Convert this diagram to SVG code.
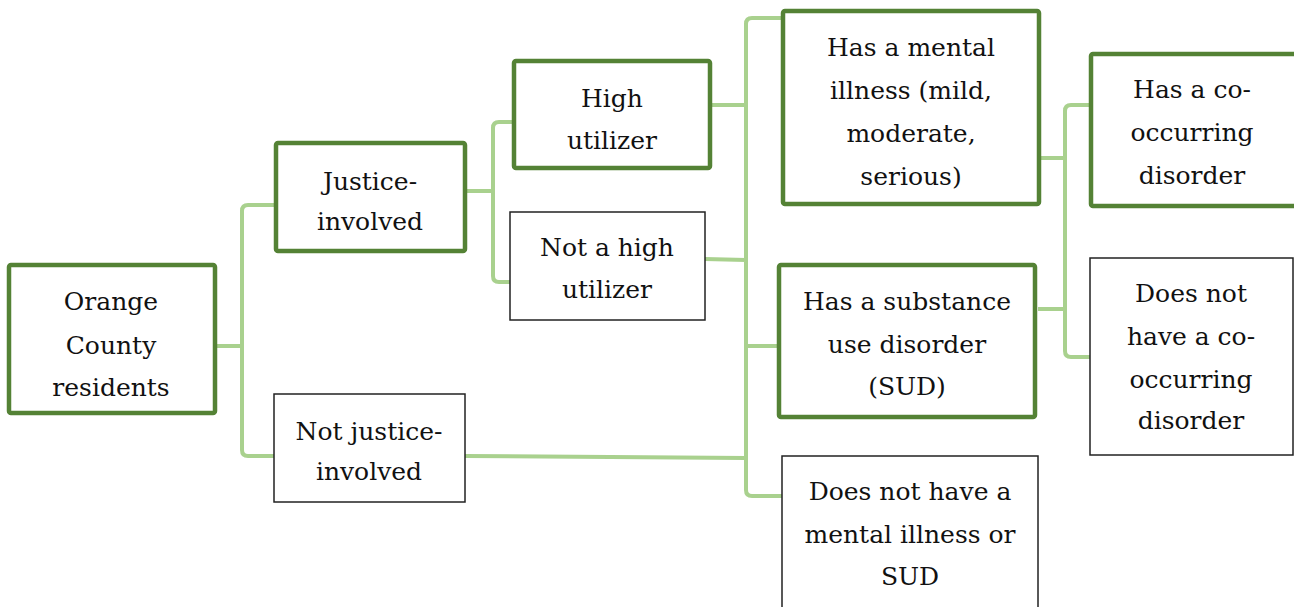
<svg xmlns="http://www.w3.org/2000/svg" width="1294" height="607" viewBox="0 0 1294 607">
<style>
.c{fill:none;stroke:#a9d18e;stroke-width:4;stroke-linejoin:round;stroke-linecap:butt}
.g{fill:#fff;stroke:#548235;stroke-width:4.5}
.t{fill:#fff;stroke:#222;stroke-width:1.5}
text{font-family:"DejaVu Serif","Liberation Serif",serif;font-size:25px;fill:#111;text-anchor:middle}
</style>
<rect width="1294" height="607" fill="#fff"/>
<g id="connectors">
<path class="c" d="M215,346 H242 M275,205 H248 Q242,205 242,211 V450 Q242,456 248,456 H274"/>
<path class="c" d="M466,191 H493 M514,122 H499 Q493,122 493,128 V276 Q493,282 499,282 H510"/>
<path class="c" d="M711,105 H746 M705,259 L746,260 M465,456 L746,458 M782,18 H752 Q746,18 746,24 V490 Q746,496 752,496 H782 M746,346 H778"/>
<path class="c" d="M1035,158 H1065 M1038,309 H1065 M1090,105 H1071 Q1065,105 1065,111 V351 Q1065,357 1071,357 H1090"/>
</g>
<g id="n-orange"><rect class="g" x="9" y="265" width="206" height="148" rx="2"/>
<text x="111" y="310">Orange</text><text x="111" y="354">County</text><text x="111" y="396">residents</text></g>
<g id="n-justice"><rect class="g" x="276" y="143" width="189" height="108" rx="2"/>
<text x="370" y="190">Justice-</text><text x="370" y="230">involved</text></g>
<g id="n-notjustice"><rect class="t" x="274" y="394" width="191" height="108"/>
<text x="369" y="440">Not justice-</text><text x="369" y="480">involved</text></g>
<g id="n-high"><rect class="g" x="514" y="61" width="196" height="107" rx="2"/>
<text x="612" y="107">High</text><text x="612" y="149">utilizer</text></g>
<g id="n-nothigh"><rect class="t" x="510" y="212" width="195" height="108"/>
<text x="607" y="256">Not a high</text><text x="607" y="298">utilizer</text></g>
<g id="n-mental"><rect class="g" x="783" y="11" width="256" height="193" rx="2"/>
<text x="911" y="56">Has a mental</text><text x="911" y="99">illness (mild,</text><text x="911" y="142">moderate,</text><text x="911" y="185">serious)</text></g>
<g id="n-sud"><rect class="g" x="779" y="265" width="256" height="152" rx="2"/>
<text x="907" y="310">Has a substance</text><text x="907" y="353">use disorder</text><text x="907" y="395">(SUD)</text></g>
<g id="n-none"><rect class="t" x="782" y="456" width="256" height="160"/>
<text x="910" y="500">Does not have a</text><text x="910" y="543">mental illness or</text><text x="910" y="585">SUD</text></g>
<g id="n-cooc"><rect class="g" x="1091" y="54" width="206" height="152" rx="2"/>
<text x="1192" y="98">Has a co-</text><text x="1192" y="141">occurring</text><text x="1192" y="184">disorder</text></g>
<g id="n-nocooc"><rect class="t" x="1090" y="258" width="203" height="197"/>
<text x="1191" y="302">Does not</text><text x="1191" y="345">have a co-</text><text x="1191" y="388">occurring</text><text x="1191" y="429">disorder</text></g>
</svg>
